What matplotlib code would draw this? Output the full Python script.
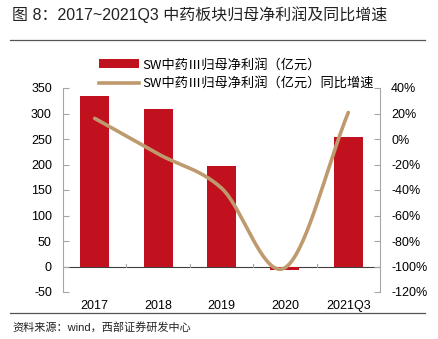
import numpy as np
import matplotlib
matplotlib.use("Agg")
import matplotlib.pyplot as plt
from matplotlib.lines import Line2D
from matplotlib.patches import Patch

plt.rcParams['font.family'] = ['Liberation Sans', 'Noto Sans CJK SC', 'DejaVu Sans']

categories = ['2017', '2018', '2019', '2020', '2021Q3']
profit = [334.5, 308.5, 197.5, -6.0, 253.0]
growth = [16.2, -11.7, -38.5, -101.0, 20.8]
left_ticks = [-50, 0, 50, 100, 150, 200, 250, 300, 350]
right_ticks = [-120, -100, -80, -60, -40, -20, 0, 20, 40]

title = '图 8：2017~2021Q3 中药板块归母净利润及同比增速'
legend_bar = 'SW中药Ⅲ归母净利润（亿元）'
legend_line = 'SW中药Ⅲ归母净利润（亿元）同比增速'
source = '资料来源：wind，西部证券研发中心'

RED = '#C1111E'
TAN = '#BF9A6E'
GRAY = '#A6A6A6'

W, H = 439, 339
fig = plt.figure(figsize=(W / 100, H / 100), dpi=100)
ax = fig.add_axes([63 / W, 1 - 292 / H, (380 - 63) / W, (292 - 88) / H])
ax2 = ax.twinx()

x = np.arange(len(categories))
ax.bar(x, profit, width=0.46, color=RED, zorder=2)
ax.axhline(0, color='#404040', lw=0.8, zorder=1)
ax.set_xlim(-0.5, len(categories) - 0.5)
ax.set_ylim(-50, 350)
ax.set_yticks(left_ticks)
ax.set_yticklabels([str(t) for t in left_ticks])
ax.set_xticks(x)
ax.set_xticklabels(categories)
ax.tick_params(axis='x', length=0, pad=6, labelsize=9)
for b in np.arange(0.5, len(categories) - 0.5, 1.0):
    ax.plot([b, b], [0, 5], color=GRAY, lw=0.8, zorder=1)
ax.tick_params(axis='y', direction='in', length=4, color=GRAY, labelsize=9, pad=8)
for s in ['top', 'right', 'bottom']:
    ax.spines[s].set_visible(False)
ax.spines['left'].set_color(GRAY)

def smooth(xs, ys, n=40):
    xs = np.asarray(xs, float); ys = np.asarray(ys, float)
    px = np.concatenate([[2 * xs[0] - xs[1]], xs, [2 * xs[-1] - xs[-2]]])
    py = np.concatenate([[2 * ys[0] - ys[1]], ys, [2 * ys[-1] - ys[-2]]])
    ox, oy = [], []
    for i in range(1, len(px) - 2):
        t = np.linspace(0, 1, n)
        for arr, p in ((ox, px), (oy, py)):
            p0, p1, p2, p3 = p[i - 1], p[i], p[i + 1], p[i + 2]
            arr.extend(0.5 * ((2 * p1) + (-p0 + p2) * t + (2 * p0 - 5 * p1 + 4 * p2 - p3) * t ** 2
                              + (-p0 + 3 * p1 - 3 * p2 + p3) * t ** 3))
    return np.array(ox), np.array(oy)

sx, sy = smooth(x, growth)
ax2.plot(sx, sy, color=TAN, lw=2.6, solid_capstyle='round', zorder=3)
ax2.set_ylim(-120, 40)
ax2.set_yticks(right_ticks)
ax2.set_yticklabels([f'{t}%' for t in right_ticks])
ax2.tick_params(axis='y', direction='in', length=4, color=GRAY, labelsize=9, pad=8)
for s in ['top', 'left', 'bottom']:
    ax2.spines[s].set_visible(False)
ax2.spines['right'].set_color(GRAY)

handles = [Patch(facecolor=RED, edgecolor='none'), Line2D([], [], color=TAN, lw=2.6)]
leg = fig.legend(handles, [legend_bar, legend_line], loc='upper left',
                 bbox_to_anchor=(94 / W, 1 - 53 / H), frameon=False,
                 fontsize=9.5, handlelength=3.0, handleheight=0.7, handletextpad=0.3,
                 labelspacing=0.45, borderaxespad=0)
for t in leg.get_texts():
    t.set_family(['Noto Sans CJK SC', 'DejaVu Sans'])

fig.text(12 / W, 1 - 15 / H, title, fontsize=11.5, va='center', ha='left', color='#222222')
fig.add_artist(Line2D([10 / W, 425 / W], [1 - 40 / H, 1 - 40 / H], color='#555555', lw=0.9))
fig.add_artist(Line2D([10 / W, 425 / W], [1 - 313 / H, 1 - 313 / H], color='#555555', lw=0.9))
fig.text(12 / W, 1 - 327 / H, source, fontsize=8, va='center', ha='left', color='#222222')

fig.savefig('out.png', dpi=100)
